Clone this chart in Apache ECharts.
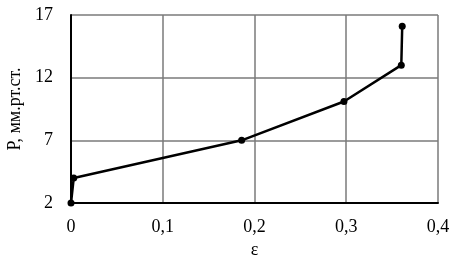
<!DOCTYPE html>
<html>
<head>
<meta charset="utf-8">
<script src="https://cdn.jsdelivr.net/npm/echarts@6/dist/echarts.min.js"></script>
<style>html,body{margin:0;padding:0;background:#fff;}#c{width:458px;height:272px;}</style>
</head>
<body>
<div id="c"></div>
<script>
var epsValues = [0, 0.003, 0.186, 0.2975, 0.36, 0.361];
var pValues = [2, 4, 7, 10.1, 13, 16.1];
var xTicks = [0, 0.1, 0.2, 0.3, 0.4];
var yTicks = [2, 7, 12, 17];
var xTitle = 'ε';
var yTitle = 'P, мм.рт.ст.';

var chart = echarts.init(document.getElementById('c'));
var font = 'Liberation Serif';
chart.setOption({
  animation: false,
  backgroundColor: '#fff',
  grid: {left: 71, right: 20, top: 15, bottom: 69, containLabel: false, outerBoundsMode: 'none'},
  xAxis: {
    type: 'value', min: xTicks[0], max: xTicks[xTicks.length-1], interval: 0.1,
    name: xTitle, nameLocation: 'middle', nameGap: 36,
    nameTextStyle: {fontFamily: font, fontSize: 18, color: '#000'},
    axisLine: {show: true, onZero: false, lineStyle: {color: '#000', width: 2}},
    axisTick: {show: false},
    axisLabel: {fontFamily: font, fontSize: 18, color: '#000', margin: 15,
      formatter: function(v){ return String(Math.round(v*10)/10).replace('.', ','); }},
    splitLine: {show: true, lineStyle: {color: '#7a7a7a', width: 1.5}}
  },
  yAxis: {
    type: 'value', min: yTicks[0], max: yTicks[yTicks.length-1], interval: 5,
    name: yTitle, nameLocation: 'middle', nameGap: 32,
    nameTextStyle: {fontFamily: font, fontSize: 18, color: '#000'},
    axisLine: {show: true, onZero: false, lineStyle: {color: '#000', width: 2}},
    axisTick: {show: false},
    axisLabel: {fontFamily: font, fontSize: 18, color: '#000', margin: 18},
    splitLine: {show: true, lineStyle: {color: '#7a7a7a', width: 1.5}}
  },
  series: [{
    type: 'line',
    data: epsValues.map(function(x, i){ return [x, pValues[i]]; }),
    symbol: 'circle', symbolSize: 7,
    lineStyle: {color: '#000', width: 2.5},
    itemStyle: {color: '#000'},
    z: 5
  }]
});
</script>
</body>
</html>
